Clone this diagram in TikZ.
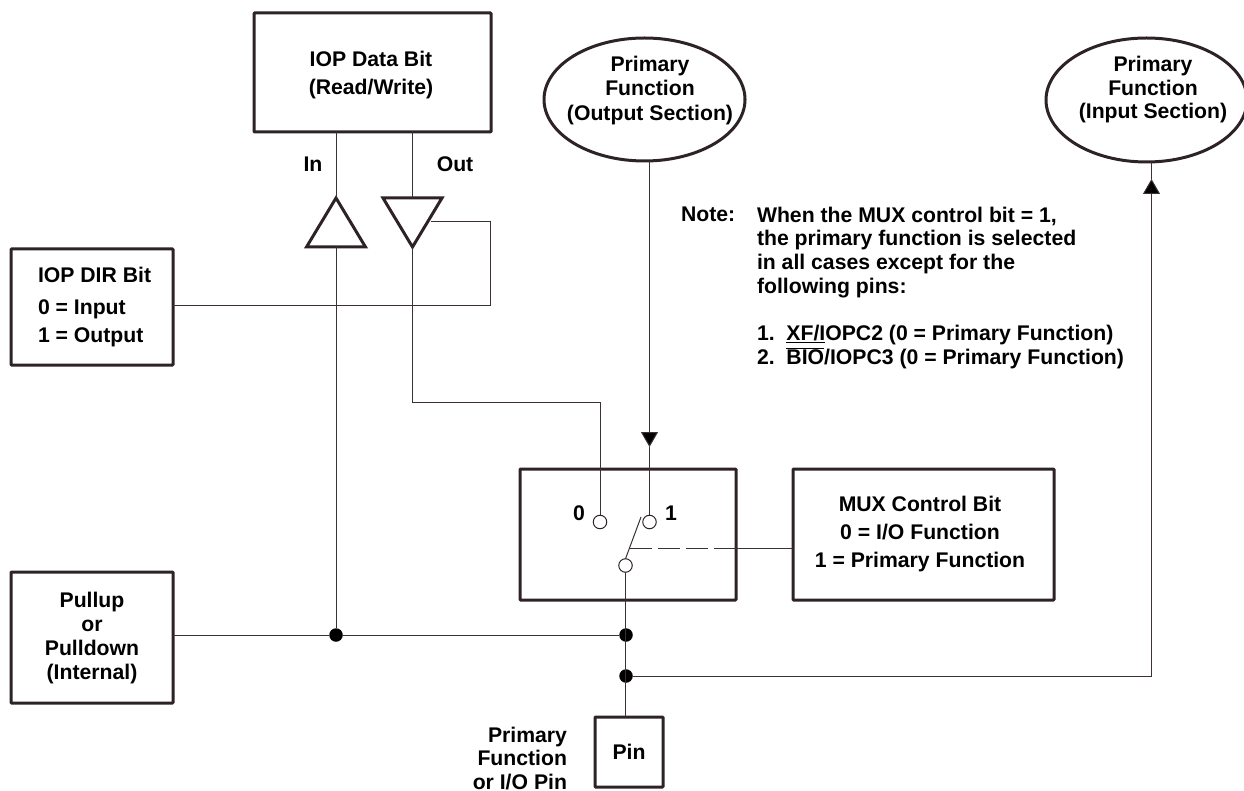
\documentclass[tikz,border=0pt]{standalone}
\usepackage{fontspec}
\setmainfont{Liberation Sans}
\usetikzlibrary{shapes.geometric,arrows.meta,calc}
\definecolor{ink}{HTML}{2E2229}
\definecolor{wirec}{HTML}{3A3036}
\tikzset{
  lbl/.style={font=\fontsize{21.2}{23.6}\selectfont\bfseries,text=black,inner sep=0pt,outer sep=0pt,align=center},
  box/.style={draw=ink,line width=3pt,fill=white,rounded corners=0.8pt,inner sep=0pt,outer sep=0pt,align=center,font=\fontsize{21.2}{24}\selectfont\bfseries,text=black},
  oval/.style={ellipse,draw=ink,line width=3pt,fill=white,inner sep=0pt,outer sep=0pt},
  wire/.style={draw=wirec,line width=1pt},
  buf/.style={isosceles triangle,isosceles triangle stretches=true,minimum height=49pt,minimum width=59pt,inner sep=0pt,outer sep=0pt,draw=ink,line width=3pt,line join=miter,fill=white},
  port/.style={circle,draw=ink,line width=1pt,fill=white,minimum size=13.5pt,inner sep=0pt,outer sep=0pt},
  dotn/.style={circle,fill=black,minimum size=13.5pt,inner sep=0pt,outer sep=0pt},
  tip/.style={-{Triangle[length=15pt,width=17pt,fill=black]}}
}
\begin{document}
\begin{tikzpicture}[x=1pt,y=-1pt]
\useasboundingbox (0,0) rectangle (1244,791);
\clip (0,0) rectangle (1244,791);
% coordinates
\coordinate (outarrow) at (649.5,447);
\coordinate (inarrow) at (1151.5,179);
\coordinate (armtop) at (641,517);
\coordinate (dashstart) at (630,548);
\coordinate (dashend) at (736,548);
\coordinate (jog) at (412.5,402);
\coordinate (fbtop) at (490,222);
\coordinate (fbbot) at (490,306);
% nodes
\node[box,minimum width=237pt,minimum height=119pt] (data) at (372.5,72.5) {};
\node[lbl,font=\fontsize{21.2}{27.5}\selectfont\bfseries] (datatxt) at (371,75) {IOP Data Bit\\(Read/Write)};
\node[oval,minimum width=201pt,minimum height=123pt] (outfn) at (644.5,99.5) {};
\node[lbl,font=\fontsize{21.2}{24.5}\selectfont\bfseries] (outtxt) at (650,90.5) {Primary\\Function\\(Output Section)};
\node[oval,minimum width=201pt,minimum height=124pt] (infn) at (1146.5,100) {};
\node[lbl,font=\fontsize{21.2}{23.5}\selectfont\bfseries] (intxt) at (1153,90) {Primary\\Function\\(Input Section)};
\node[buf,shape border rotate=90,anchor=apex] (bufin) at (336,198) {};
\node[buf,shape border rotate=270,anchor=apex] (bufout) at (412.5,247) {};
\node[box,minimum width=162pt,minimum height=116pt] (dir) at (92,307) {};
\node[lbl,anchor=west,align=left,font=\fontsize{21.2}{28}\selectfont\bfseries] (dirtxt) at (38,307) {IOP DIR Bit\\[4pt]0 = Input\\1 = Output};
\node[box,minimum width=162pt,minimum height=131pt] (pull) at (92,637.5) {};
\node[lbl,font=\fontsize{21.2}{24}\selectfont\bfseries] (pulltxt) at (92,638.5) {Pullup\\or\\Pulldown\\(Internal)};
\node[box,minimum width=216pt,minimum height=131pt] (mux) at (628,534.5) {};
\node[box,minimum width=261pt,minimum height=131pt] (ctrl) at (923.5,534.5) {};
\node[lbl,font=\fontsize{21.2}{28}\selectfont\bfseries] (ctrltxt) at (920,534.5) {MUX Control Bit\\0 = I/O Function\\1 = Primary Function};
\node[box,minimum width=68pt,minimum height=70pt] (pin) at (629,752) {Pin};
\node[port] (p0) at (600,522) {};
\node[port] (p1) at (649.5,522) {};
\node[port] (pc) at (625.5,565.5) {};
\node[dotn] (j1) at (336,635) {};
\node[dotn] (j2) at (626,635) {};
\node[dotn] (j3) at (626,676) {};
% connectors
\draw[wire] (data.south -| bufin.apex) -- (bufin.apex);
\draw[wire] (data.south -| bufout.apex) -- (bufout.lower side);
\draw[wire] (bufin.lower side) -- (j1);
\draw[wire] (bufout.apex) -- (jog) -- (jog -| p0) -- (p0);
\draw[wire] (dir.east |- fbbot) -- (fbbot) -- (fbtop) -- (431,222);
\draw[wire,tip] (outfn.south -| p1) -- (outarrow);
\draw[wire] (outarrow) -- (p1);
\draw[wire] (armtop) -- (pc.north);
\draw[wire,dash pattern=on 22pt off 6pt] (dashstart) -- (dashend);
\draw[wire] (dashend) -- (ctrl.west |- dashend);
\draw[wire] (pc) -- (pin.north -| pc);
\draw[wire] (pull.east |- j1) -- (j1) -- (j2);
\draw[wire,tip] (j3) -| (inarrow);
\draw[wire] (inarrow) -- (infn.south -| inarrow);
% labels
\node[lbl] (lin) at (313,164) {In};
\node[lbl] (lout) at (455,164) {Out};
\node[lbl] (l0) at (579,513) {0};
\node[lbl] (l1) at (671,513) {1};
\node[lbl,anchor=north east,align=right] (pinlbl) at (567,727) {Primary\\Function\\or I/O Pin};
\node[lbl,anchor=north west] (notehd) at (681,207) {Note:};
\node[lbl,anchor=north west,align=left] (note) at (757,207) {When the MUX control bit = 1,\\the primary function is selected\\in all cases except for the\\following pins:\\[24pt]1.\ \ \underline{XF/I}OPC2 (0 = Primary Function)\\2.\ \ $\overline{\hbox{BIO}}$/IOPC3 (0 = Primary Function)};
\end{tikzpicture}
\end{document}
